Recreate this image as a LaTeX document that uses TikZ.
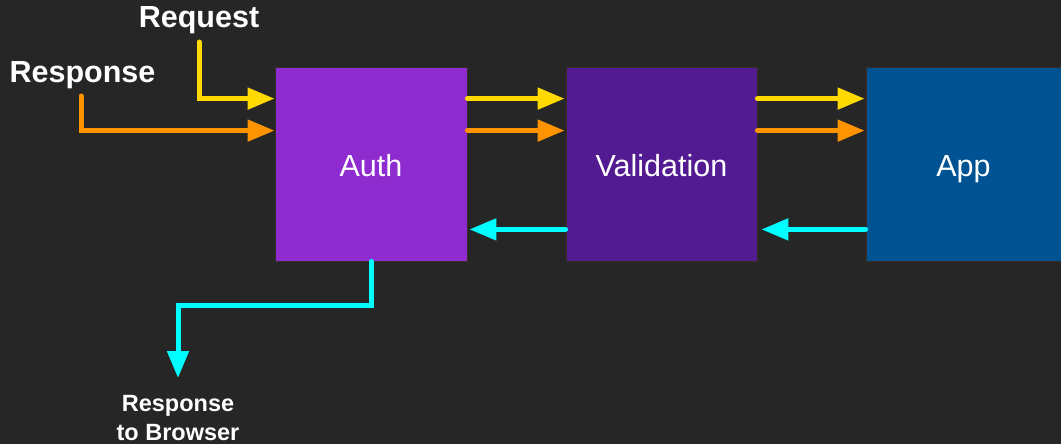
\documentclass[tikz,border=0pt]{standalone}
\usepackage{fontspec}
\setmainfont{Liberation Sans}
\usetikzlibrary{arrows.meta,calc}
\definecolor{bg}{HTML}{262626}
\definecolor{authc}{HTML}{8E2CCF}
\definecolor{valc}{HTML}{531B92}
\definecolor{appc}{HTML}{005393}
\definecolor{reqc}{HTML}{FFD900}
\definecolor{resc}{HTML}{FF9300}
\definecolor{backc}{HTML}{00FDFF}
\definecolor{edgec}{HTML}{3A2E24}
\begin{document}
\begin{tikzpicture}[x=1pt,y=-1pt,
  box/.style={draw=edgec, line width=0.8pt, minimum height=194pt, inner sep=0pt,
    text height=30pt, text depth=6pt,
    text=white, font=\fontsize{30.5}{36}\selectfont},
  flow/.style={line width=5pt, line cap=round, line join=miter,
    -{Triangle[length=27pt,width=21pt]}},
  lbl/.style={text=white, font=\bfseries\fontsize{30.5}{36}\selectfont, inner sep=0pt, anchor=base},
  small/.style={text=white, font=\bfseries\fontsize{23.5}{29}\selectfont, align=center, inner sep=0pt, anchor=base}]
\fill[bg] (0,0) rectangle (1061,444);
\useasboundingbox (0,0) rectangle (1061,444);
% boxes
\node[box, fill=authc, minimum width=192pt] (auth) at (371,164) {Auth};
\node[box, fill=valc, minimum width=191pt] (val) at (661.5,164) {Validation};
\node[box, fill=appc, minimum width=195pt] (app) at (963.5,164) {App};
% labels
\node[lbl] (req) at (199,28) {Request};
\node[lbl] (res) at (82.5,82) {Response};
\node[small] (browser) at (178,440) {Response\\to Browser};
\coordinate (reqstart) at (199,42);
\coordinate (resstart) at (81,96);
\coordinate (bend) at (178,305);
\coordinate (outend) at (178,378);
% incoming
\draw[flow, reqc] (reqstart) |- ([yshift=-32pt]auth.north west);
\draw[flow, resc] (resstart) |- ([yshift=-64pt]auth.north west);
% auth -> validation
\draw[flow, reqc] ([yshift=-32pt]auth.north east) -- ([yshift=-32pt,xshift=-1pt]val.north west);
\draw[flow, resc] ([yshift=-64pt]auth.north east) -- ([yshift=-64pt,xshift=-1pt]val.north west);
% validation -> app
\draw[flow, reqc] ([yshift=-32pt]val.north east) -- ([yshift=-32pt,xshift=-1pt]app.north west);
\draw[flow, resc] ([yshift=-64pt]val.north east) -- ([yshift=-64pt,xshift=-1pt]app.north west);
% back
\draw[flow, backc] ([yshift=32pt]app.south west) -- ([yshift=32pt,xshift=4pt]val.south east);
\draw[flow, backc] ([yshift=32pt]val.south west) -- ([yshift=32pt,xshift=2pt]auth.south east);
% out to browser
\draw[flow, backc] (auth.south) |- (bend) -- (outend);
\end{tikzpicture}
\end{document}
